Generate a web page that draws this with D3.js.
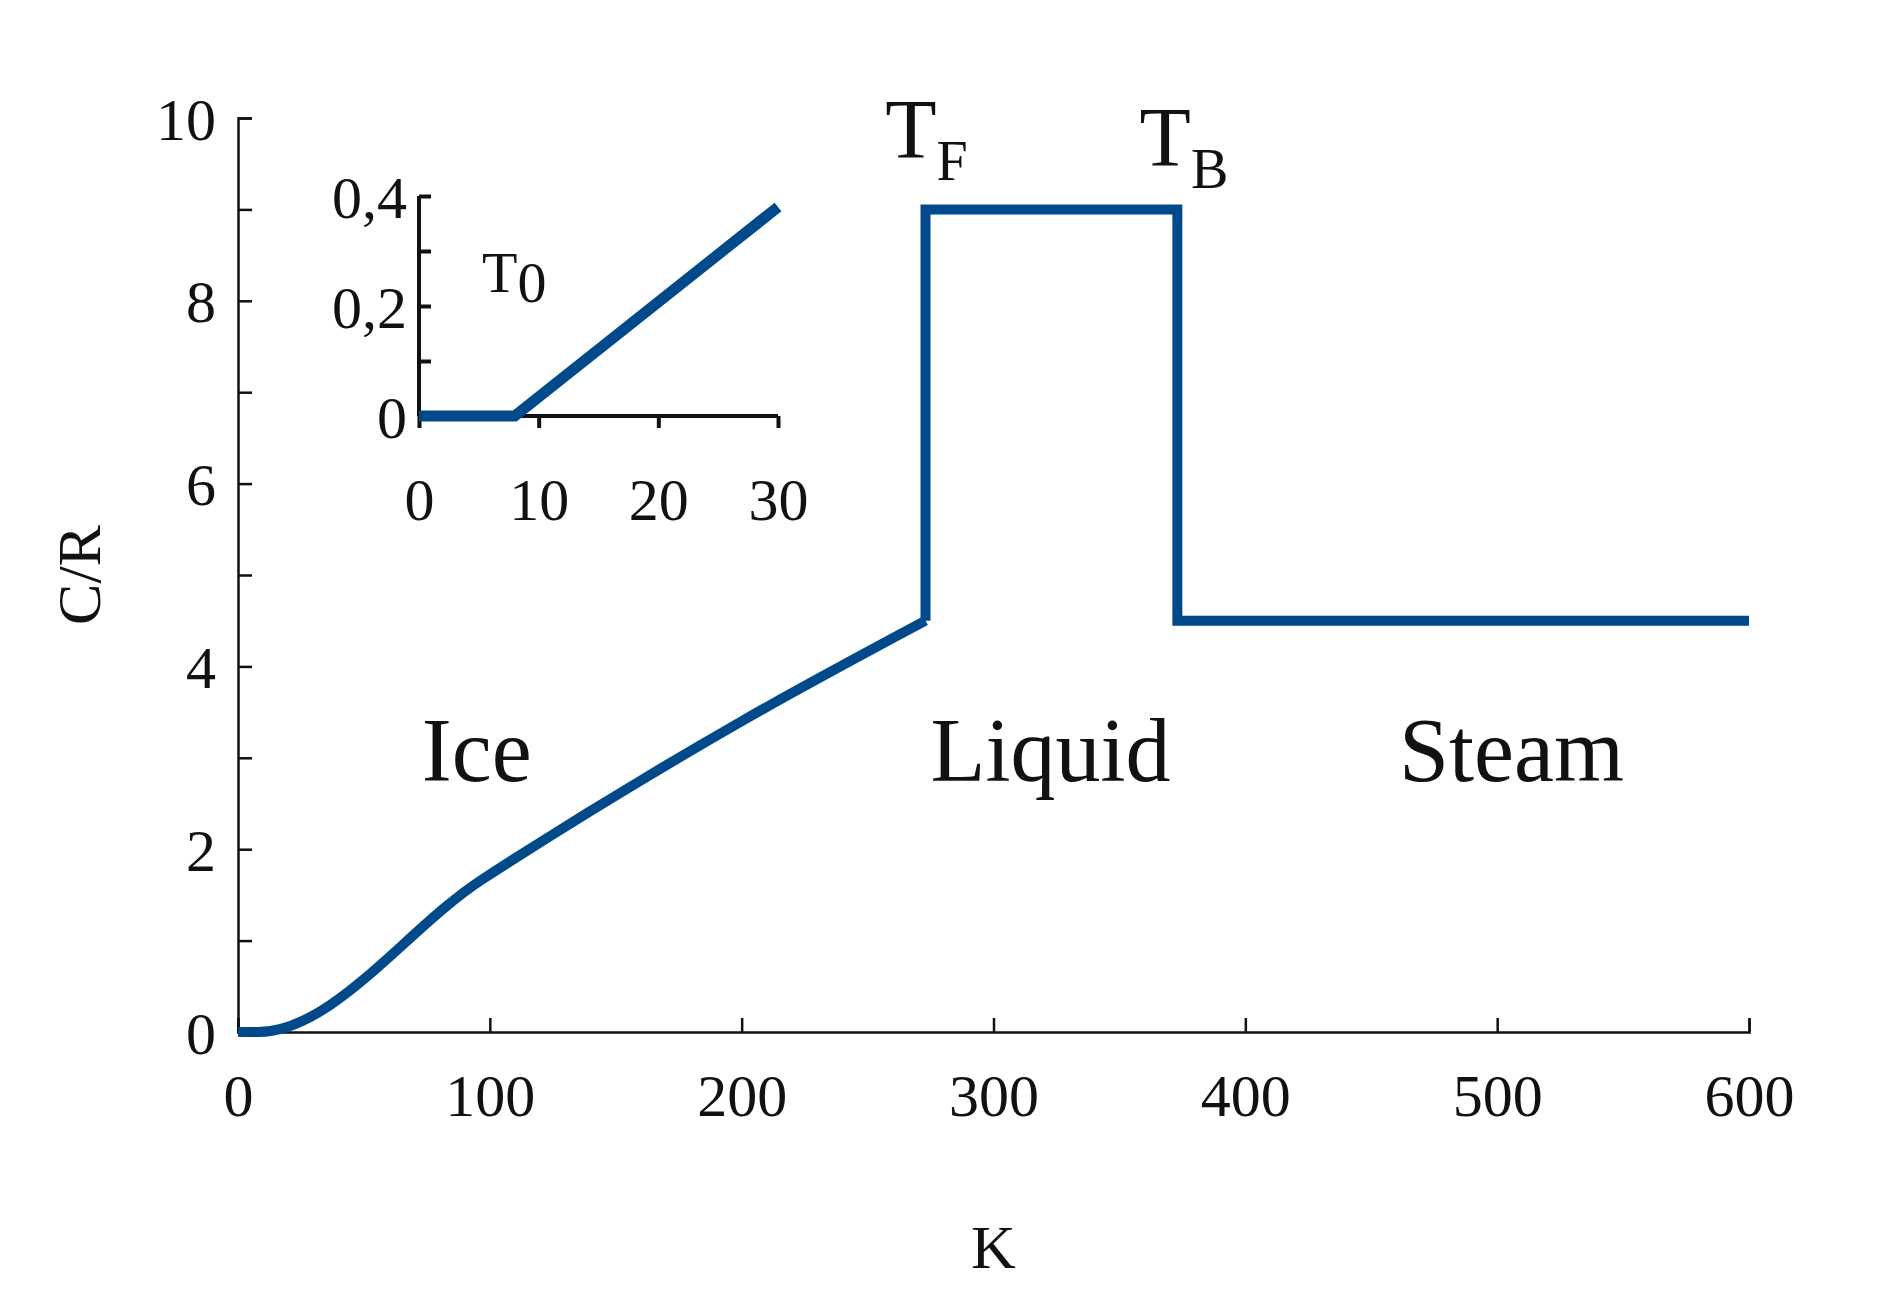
<!DOCTYPE html>
<html><head><meta charset="utf-8">
<script src="https://cdn.jsdelivr.net/npm/d3@7"></script>
<style>body{margin:0;background:#fff}text{font-family:"Liberation Serif",serif;fill:#111}</style>
</head><body>
<script>
// main curve: temperature (K) vs C/R
const iceT = [0, 8, 97, 200, 273];
const iceC = [0, 0, 1.67, 3.4, 4.5];
const hotT = [273, 273, 373, 373, 600];
const hotC = [4.5, 9, 9, 4.5, 4.5];
// inset: low temperature detail
const insetT = [0, 8, 30];
const insetC = [0, 0, 0.38];
const phaseLabels = [{t: 73, c: 2.75, text: 'Ice'}, {t: 275, c: 2.75, text: 'Liquid'}, {t: 461, c: 2.75, text: 'Steam'}];
const lineColor = '#004a8c';

const WIDTH = 1896, HEIGHT = 1312;
const svg = d3.select('body').append('svg').attr('width', WIDTH).attr('height', HEIGHT);

const x = d3.scaleLinear().domain([0, 600]).range([238, 1749]);
const y = d3.scaleLinear().domain([0, 10]).range([1032, 118]);

//axes
const xAxis = svg.append('g').attr('transform', `translate(0,${y(0)})`)
.call(d3.axisBottom(x).tickValues([0,100,200,300,400,500,600]).tickSize(-14).tickPadding(36));
const yAxis = svg.append('g').attr('transform', `translate(${x(0)},0)`)
.call(d3.axisLeft(y).ticks(10).tickSize(-14).tickPadding(22).tickFormat(d => d % 2 === 0 ? d : ''));
[xAxis, yAxis].forEach(a => {
    a.selectAll('path,line').attr('stroke', '#111').attr('stroke-width', 2.5);
    a.selectAll('text').style('font-size', '60px').style('font-family', '"Liberation Serif",serif').attr('fill', '#111');
});
xAxis.selectAll('text').attr('dy', '0.8em');
yAxis.selectAll('text').attr('dy', '0.35em');

svg.append('text').attr('x', x(300)).attr('y', 1268).attr('text-anchor', 'middle').style('font-size', '62px').text('K');
svg.append('text').attr('transform', `translate(100,${y(5)}) rotate(-90)`).attr('text-anchor', 'middle').style('font-size', '62px').text('C/R');

const line = d3.line().x(d => x(d[0])).y(d => y(d[1]));
svg.append('path').datum(d3.zip(iceT, iceC)).attr('d', line.curve(d3.curveMonotoneX))
.attr('fill', 'none').attr('stroke', lineColor).attr('stroke-width', 10);
svg.append('path').datum(d3.zip(hotT, hotC)).attr('d', line.curve(d3.curveLinear))
.attr('fill', 'none').attr('stroke', lineColor).attr('stroke-width', 10);

svg.selectAll('.phase').data(phaseLabels).enter().append('text')
.attr('x', d => x(d.t)).attr('y', d => y(d.c)).style('font-size', '90px').text(d => d.text);

//T_F and T_B labels
function subLabel(tx, ty, main, sub) {
    const t = svg.append('text').attr('x', tx).attr('y', ty).style('font-size', '84px');
    t.append('tspan').text(main);
    t.append('tspan').attr('dy', 22).style('font-size', '56px').text(sub);
}
subLabel(x(257), 158, 'T', 'F');
subLabel(x(358), 166, 'T', 'B');

//inset
const ix = d3.scaleLinear().domain([0, 30]).range([419, 778]);
const iy = d3.scaleLinear().domain([0, 0.4]).range([416, 196]);
const ixAxis = svg.append('g').attr('transform', `translate(0,${iy(0)})`)
.call(d3.axisBottom(ix).tickValues([0,10,20,30]).tickSize(12).tickPadding(44));
const iyAxis = svg.append('g').attr('transform', `translate(${ix(0)},0)`)
.call(d3.axisLeft(iy).tickValues([0,0.1,0.2,0.3,0.4]).tickSize(-12).tickPadding(12)
.tickFormat(d => [0,0.2,0.4].includes(d) ? String(d).replace('.', ',') : ''));
[ixAxis, iyAxis].forEach(a => {
    a.select('.domain').attr('d', a === ixAxis ? `M${ix(0)},0H${ix(30)}` : `M0,${iy(0)}V${iy(0.4)}`);
    a.selectAll('path,line').attr('stroke', '#111').attr('stroke-width', 4);
    a.selectAll('text').style('font-size', '60px').style('font-family', '"Liberation Serif",serif').attr('fill', '#111');
});
ixAxis.selectAll('text').attr('dy', '0.8em');
iyAxis.selectAll('text').attr('dy', '0.35em');

const iline = d3.line().x(d => ix(d[0])).y(d => iy(d[1]));
svg.append('path').datum(d3.zip(insetT, insetC)).attr('d', iline)
.attr('fill', 'none').attr('stroke', lineColor).attr('stroke-width', 11);

const t0 = svg.append('text').attr('x', 482).attr('y', 292).style('font-size', '58px');
t0.append('tspan').text('T');
t0.append('tspan').attr('dy', 10).text('0');
</script>
</body></html>
